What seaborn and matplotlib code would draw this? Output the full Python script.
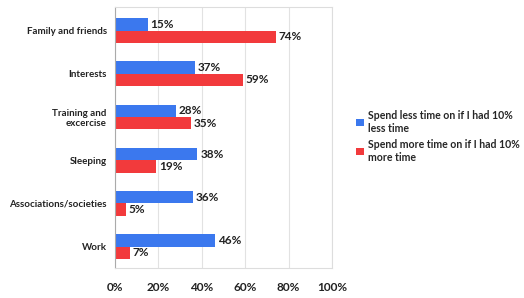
import pandas as pd
import seaborn as sns
import matplotlib.pyplot as plt

# valeurs
categories = ["Family and friends", "Interests", "Training and\nexcercise",
              "Sleeping", "Associations/societies", "Work"]
less_time = [15, 37, 28, 38, 36, 46]
more_time = [74, 59, 35, 19, 5, 7]
series = ["Spend less time on if I had 10%\nless time",
          "Spend more time on if I had 10%\nmore time"]
colors = ["#3b78ee", "#f23a3c"]

df = pd.DataFrame({
    "activity": categories * 2,
    "share": less_time + more_time,
    "series": [series[0]] * len(categories) + [series[1]] * len(categories),
})

sns.set_style("white")
plt.rcParams["font.family"] = ["Lato", "DejaVu Sans"]

fig = plt.figure(figsize=(5.24, 2.98), dpi=100)
ax = fig.add_axes([0.2195, 0.10, 0.414, 0.877])

sns.barplot(data=df, y="activity", x="share", hue="series", orient="h",
            palette=colors, width=0.57, gap=0, saturation=1, ax=ax,
            edgecolor="none")

for cont in ax.containers:
    ax.bar_label(cont, labels=[f"{v:.0f}%" for v in cont.datavalues],
                 padding=2, fontsize=8.5, fontweight="bold", color="#222222")

ax.set_xlim(0, 100)
ax.set_ylim(5.5, -0.55)
ax.set_xticks(range(0, 101, 20))
ax.set_xticklabels([f"{t}%" for t in range(0, 101, 20)], fontsize=8.5,
                   fontweight="bold", color="#222222")
ax.tick_params(axis="x", pad=10, length=0)
ax.tick_params(axis="y", length=0, pad=6, labelsize=7)
for lab in ax.get_yticklabels():
    lab.set_fontweight("bold")
    lab.set_color("#222222")
    lab.set_horizontalalignment("right")
ax.set_xlabel("")
ax.set_ylabel("")
ax.grid(axis="x", color="#e2e2e2", linewidth=0.8)
ax.set_axisbelow(True)
for side in ["top", "right", "bottom"]:
    ax.spines[side].set_color("#dddddd")
ax.spines["left"].set_color("#aaaaaa")

handles, labels = ax.get_legend_handles_labels()
ax.get_legend().remove()
fig.legend(handles, labels, loc="upper left", bbox_to_anchor=(0.672, 0.645),
           frameon=False, handlelength=0.7, handleheight=0.7,
           handletextpad=0.4, labelspacing=0.5, borderaxespad=0,
           prop={"weight": "bold", "size": 7.6})

plt.savefig("out.png", dpi=100)
